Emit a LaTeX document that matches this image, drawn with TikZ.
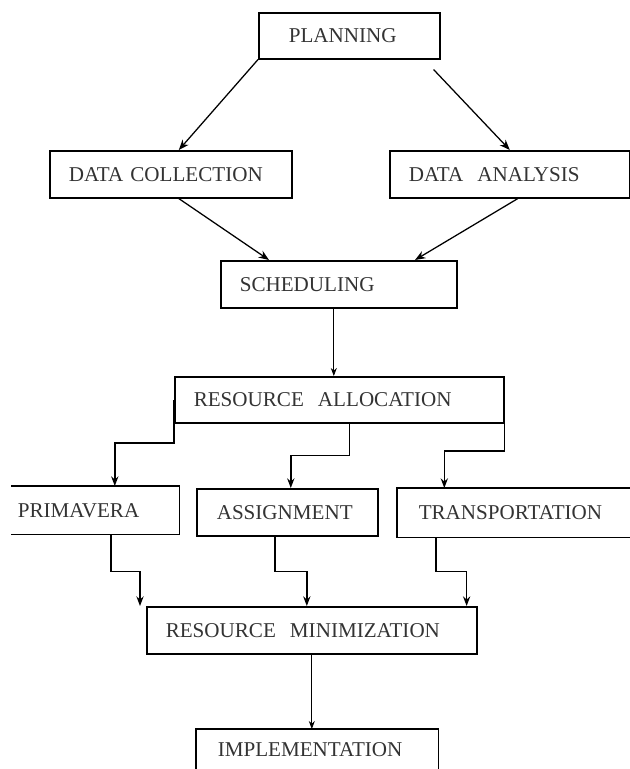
\documentclass[tikz,border=0pt]{standalone}
\usepackage{fontspec}
\setmainfont{Liberation Serif}
\usetikzlibrary{calc}
\usetikzlibrary{arrows.meta}
\tikzset{
  stage/.style={anchor=north west, draw, line width=1.1pt, align=left,
    font=\fontsize{15}{18}\selectfont, text=black!80, minimum height=1.175cm},
  flow/.style={line width=1.1pt, -{Stealth[length=2.4mm,width=1.8mm]}},
  diag/.style={line width=0.9pt, -{Stealth[length=2.6mm,width=2mm]}},
  thinflow/.style={line width=0.6pt, -{Stealth[length=2mm,width=1.5mm]}}
}

\begin{document}
\begin{tikzpicture}[x=0.025cm,y=0.025cm]
    \useasboundingbox (0,0) rectangle (630,-769);
    \node[stage,inner xsep=0.75cm,text width=3.025cm,minimum height=1.15cm] (plan) at (258,-12) {PLANNING};
    \node[stage,inner xsep=0.475cm,text width=5.1cm] (dcol) at (49,-150) {DATA COLLECTION};
    \node[stage,inner xsep=0.475cm,text width=5.05cm] (dana) at (389,-150) {DATA\ \ ANALYSIS};
    \node[stage,inner xsep=0.475cm,text width=4.95cm] (sched) at (220,-260) {SCHEDULING};
    \node[stage,inner xsep=0.475cm,text width=7.275cm,minimum height=1.15cm] (ralloc) at (174,-376) {RESOURCE\ \ ALLOCATION};
    \node[stage,draw=none,inner xsep=0.15cm,text width=3.875cm] (prim) at (11,-486) {PRIMAVERA};
    \node[stage,inner xsep=0.5cm,text width=3.525cm] (assign) at (196,-488) {ASSIGNMENT};
    \node[stage,draw=none,inner xsep=0.525cm,text width=4.775cm,minimum height=1.2cm] (transp) at (397,-488) {TRANSPORTATION};
    \node[stage,inner xsep=0.475cm,text width=7.3cm] (rmin) at (146,-606) {RESOURCE\ \ MINIMIZATION};
    \node[stage,draw=none,inner xsep=0.525cm,text width=4.975cm,minimum height=1cm] (impl) at (196,-729) {IMPLEMENTATION};
    \draw [line width=1.1pt] (prim.north west) -- (prim.north east) -- (prim.south east) -- (prim.south west);
    \draw [line width=1.1pt] (transp.north east) -- (transp.north west) -- (transp.south west) -- (transp.south east);
    \draw [line width=1.1pt] (impl.south west) -- (impl.north west) -- (impl.north east) -- (impl.south east);
    \draw [diag] (plan.south west) -- ($(dcol.north)+(8,0)$);
    \draw [diag] ($(plan.south east)+(-7,-10)$) -- (dana.north);
    \draw [diag] ($(dcol.south)+(8,0)$) -- ($(sched.north west)+(49,0)$);
    \draw [diag] ($(dana.south)+(8,0)$) -- ($(sched.north west)+(195,0)$);
    \coordinate (s1) at ($(sched.south)+(-5,0)$);
    \draw [thinflow] (s1) -- (s1 |- ralloc.north);
    \draw [flow] (ralloc.west) -- ++(0,-43) -| ($(prim.north)+(19.5,0)$);
    \draw [flow] ($(ralloc.south)+(10,0)$) -- ++(0,-32) -| ($(assign.north)+(3.5,0)$);
    \draw [flow] (ralloc.east) -- ++(0,-51) -| ($(transp.north)+(-70,0)$);
    \draw [flow] ($(prim.south)+(15.5,0)$) -- ++(0,-37) -| ($(rmin.north west)+(-6,0)$);
    \draw [flow] ($(assign.south)+(-12.5,0)$) -- ++(0,-35) -| ($(rmin.north)+(-5,0)$);
    \draw [flow] ($(transp.south)+(-78.5,0)$) -- ++(0,-34) -| ($(rmin.north east)+(-11,0)$);
    \draw [thinflow] (rmin.south) -- (rmin.south |- impl.north);
\end{tikzpicture}
\end{document}
